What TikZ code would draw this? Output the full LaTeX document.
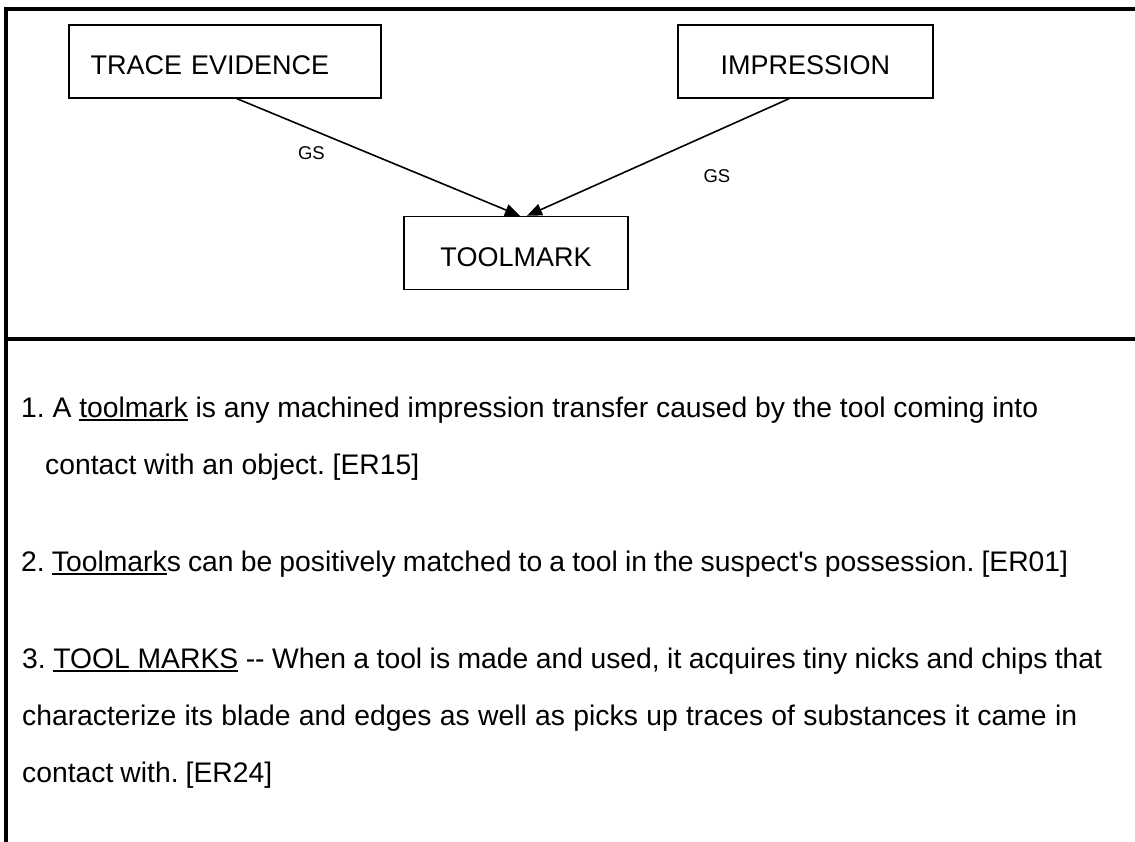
\documentclass[tikz,border=0pt]{standalone}
\usepackage{fontspec}
\setmainfont{Liberation Sans}
\usepackage{tikz}
\usetikzlibrary{arrows.meta}
\newcommand\undl[1]{\setbox0=\hbox{#1}\rlap{\rule[-3.5pt]{\wd0}{1.4pt}}\box0\relax}
\newcommand\fitto[2]{\hbox to #1pt{#2}}
\frenchspacing
\hbadness=10000
\begin{document}
\begin{tikzpicture}[
  x=1pt, y=-1pt,
  box/.style={draw, line width=1.4pt, minimum height=73pt, text height=26pt, text depth=0pt,
    font=\fontsize{27}{30}\selectfont},
  gs/.style={font=\fontsize{18.5}{20}\selectfont, inner sep=0pt},
  txt/.style={anchor=base west, inner sep=0pt, font=\fontsize{28.3}{57}\selectfont},
  link/.style={line width=1.6pt, -{Triangle[length=15pt,width=12pt]}},
  frame/.style={line width=4pt}
]
\useasboundingbox (0,0) rectangle (1135,841);
% frame
\draw[frame] (1135,9) -- (6,9) -- (6,845);
\draw[frame] (6,339) -- (1135,339);
% diagram
\node[box, minimum width=312pt, inner xsep=21.7pt, text width=268.6pt, align=left] (trace) at (225,61.5) {TRACE EVIDENCE};
\node[box, minimum width=255pt] (impression) at (805.4,61.5) {IMPRESSION};
\node[box, minimum width=224pt] (toolmark) at (516,253) {TOOLMARK};
\draw[link] ([xshift=12pt]trace.south) -- node[gs, pos=0.263, yshift=-24pt] (gs1) {GS} ([xshift=4pt]toolmark.north);
\draw[link] ([xshift=-16.4pt]impression.south) -- node[gs, pos=0.275, yshift=-45pt] (gs2) {GS} ([xshift=11pt]toolmark.north);
% definitions
\node[txt] (d1a) at (21,417) {\fitto{1017}{1. A \undl{toolmark} is any machined impression transfer caused by the tool coming into}};
\node[txt] (d1b) at (45,474) {\fitto{374}{contact with an object. [ER15]}};
\node[txt] (d2a) at (21,571) {\fitto{1047}{2. \undl{Toolmark}s can be positively matched to a tool in the suspect\textquotesingle s possession. [ER01]}};
\node[txt] (d3a) at (22,668) {\fitto{1080}{3. \undl{TOOL MARKS} -{}- When a tool is made and used, it acquires tiny nicks and chips that}};
\node[txt] (d3b) at (22,725) {\fitto{1055}{characterize its blade and edges as well as picks up traces of substances it came in}};
\node[txt] (d3c) at (22,782) {\fitto{250}{contact with. [ER24]}};
\end{tikzpicture}
\end{document}
